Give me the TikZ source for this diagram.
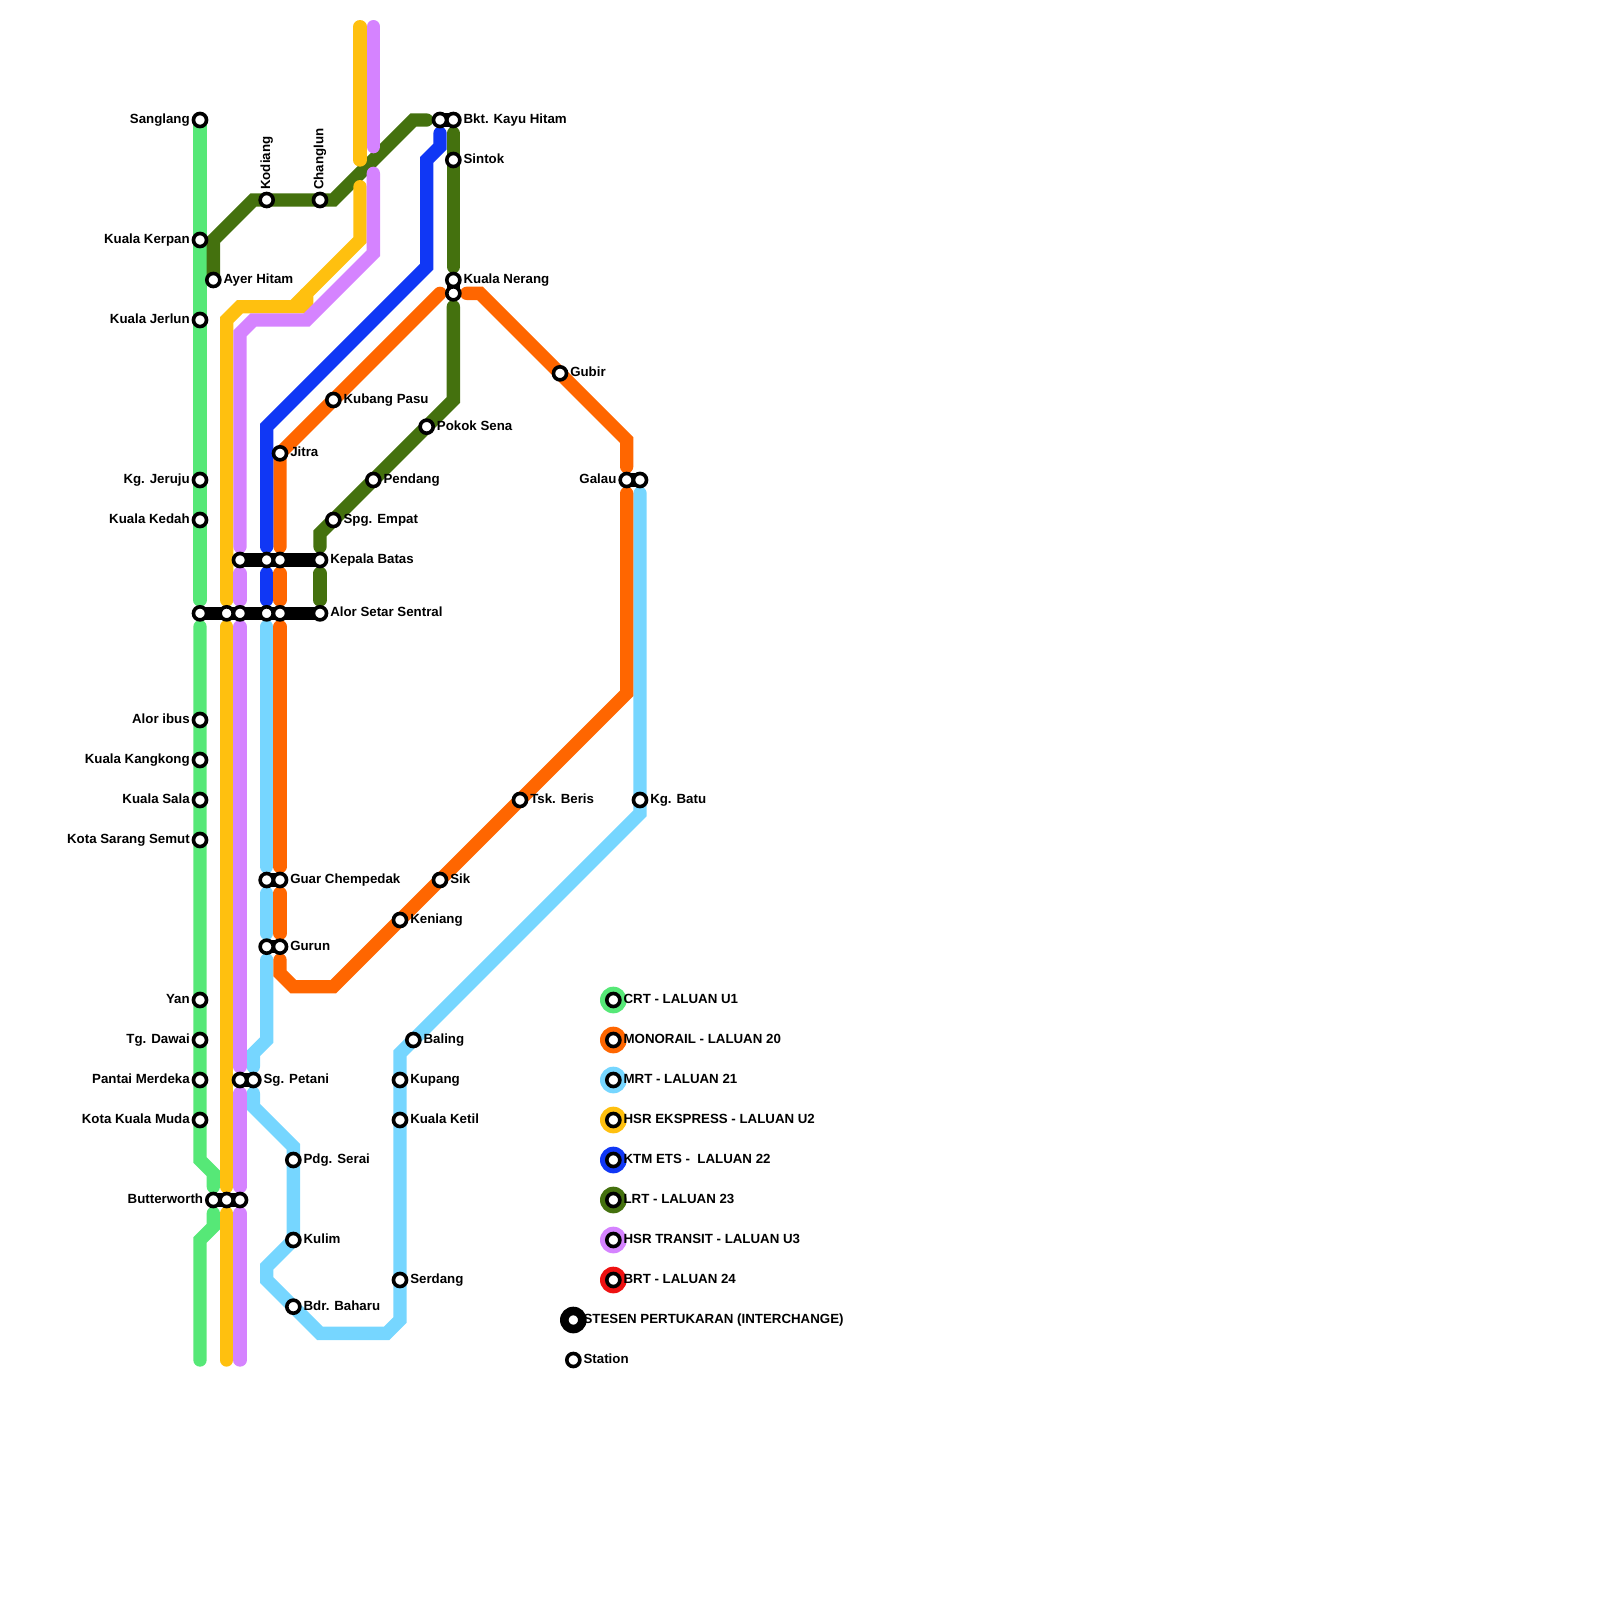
\documentclass[tikz,border=0pt]{standalone}
\usepackage{fontspec}
\setmainfont{Liberation Sans}
\pgfdeclarelayer{lines}
\pgfsetlayers{lines,main}
\definecolor{crt}{HTML}{56E877}
\definecolor{mono}{HTML}{FF6600}
\definecolor{mrt}{HTML}{76D6FF}
\definecolor{hsre}{HTML}{FFC00F}
\definecolor{ktm}{HTML}{1037F5}
\definecolor{lrt}{HTML}{44710E}
\definecolor{hsrt}{HTML}{D583FF}
\definecolor{brt}{HTML}{EE1111}
\tikzset{
  route/.style={line width=10pt,line cap=round,line join=miter,miter limit=4},
  crtline/.style={route,draw=crt},
  monoline/.style={route,draw=mono},
  mrtline/.style={route,draw=mrt},
  hsreline/.style={route,draw=hsre},
  ktmline/.style={route,draw=ktm},
  lrtline/.style={route,draw=lrt},
  hsrtline/.style={route,draw=hsrt},
  linkbar/.style={line width=10pt,line cap=round,draw=black},
  stn/.style={circle,draw=black,fill=white,line width=2.7pt,minimum size=9.8pt,inner sep=0pt,outer sep=0pt},
  lbl/.style={font=\bfseries\fontsize{9.97}{12}\selectfont,inner sep=0pt,text=black},
  lblr/.style={lbl,anchor=base west},
  lbll/.style={lbl,anchor=base east},
  lblu/.style={lbl,anchor=base west,rotate=90},
  dot/.style={circle,minimum size=20pt,inner sep=0pt,outer sep=0pt,draw=none}
}
\begin{document}
\begin{tikzpicture}[x=10pt,y=-10pt]
\useasboundingbox (0,0) rectangle (120,120);
% station nodes, labelled to the right
\foreach \n/\x/\y/\t in {
 ayer/16/21/Ayer Hitam, bkt/34/9/Bkt. Kayu Hitam, sintok/34/12/Sintok, nerang/34/21/Kuala Nerang,
 gubir/42/28/Gubir, kubang/25/30/Kubang Pasu, pokok/32/32/Pokok Sena, jitra/21/34/Jitra,
 pendang/28/36/Pendang, spg/25/39/Spg. Empat, kepala/24/42/Kepala Batas, alor/24/46/Alor Setar Sentral,
 kgbatu/48/60/Kg. Batu, tsk/39/60/Tsk. Beris, guar/21/66/Guar Chempedak, sik/33/66/Sik,
 keniang/30/69/Keniang, gurun/21/71/Gurun, baling/31/78/Baling, sgpetani/19/81/Sg. Petani,
 kupang/30/81/Kupang, ketil/30/84/Kuala Ketil, pdg/22/87/Pdg. Serai, kulim/22/93/Kulim,
 serdang/30/96/Serdang, bdr/22/98/Bdr. Baharu}
 {\node[stn] (\n) at (\x,\y) {}; \node[lblr] (t\n) at (\x+0.75,\y+0.25) {\t};}
% station nodes, labelled to the left
\foreach \n/\x/\y/\t in {
 sanglang/15/9/Sanglang, kerpan/15/18/Kuala Kerpan, jerlun/15/24/Kuala Jerlun, jeruju/15/36/Kg. Jeruju,
 kedah/15/39/Kuala Kedah, ibus/15/54/Alor ibus, kangkong/15/57/Kuala Kangkong, sala/15/60/Kuala Sala,
 sarang/15/63/Kota Sarang Semut, yan/15/75/Yan, dawai/15/78/Tg. Dawai, merdeka/15/81/Pantai Merdeka,
 muda/15/84/Kota Kuala Muda, butter/16/90/Butterworth, galau/47/36/Galau}
 {\node[stn] (\n) at (\x,\y) {}; \node[lbll] (t\n) at (\x-0.75,\y+0.25) {\t};}
% station nodes, labelled upwards
\foreach \n/\x/\y/\t in {kodiang/20/15/Kodiang, changlun/24/15/Changlun}
 {\node[stn] (\n) at (\x,\y) {}; \node[lblu] (t\n) at (\x+0.25,\y-0.75) {\t};}
% unlabelled stations of the interchanges
\foreach \n/\x/\y in {
 bktb/33/9, nerangb/34/22, ka/18/42, kb/20/42, kc/21/42,
 aa/15/46, ab/17/46, ac/18/46, ad/20/46, ae/21/46,
 guarb/20/66, gurunb/20/71, sgb/18/81, butb/17/90, butc/18/90, galaub/48/36}
 {\node[stn] (\n) at (\x,\y) {};}
% legend
\foreach \n/\y/\c/\t in {
 la/75/crt/CRT - LALUAN U1, lb/78/mono/MONORAIL - LALUAN 20, lc/81/mrt/MRT - LALUAN 21,
 ld/84/hsre/HSR EKSPRESS - LALUAN U2, le/87/ktm/KTM ETS -~ LALUAN 22, lf/90/lrt/LRT - LALUAN 23,
 lg/93/hsrt/HSR TRANSIT - LALUAN U3, lh/96/brt/BRT - LALUAN 24}
 {\begin{pgfonlayer}{lines}\node[dot,fill=\c] (d\n) at (46,\y) {};\end{pgfonlayer}
  \node[stn] (\n) at (46,\y) {}; \node[lblr] (t\n) at (46.75,\y+0.25) {\t};}
\begin{pgfonlayer}{lines}\node[dot,fill=black] (dinter) at (43,99) {};\end{pgfonlayer}
\node[stn] (inter) at (43,99) {}; \node[lblr] (tinter) at (43.75,99.25) {STESEN PERTUKARAN (INTERCHANGE)};
\node[stn] (plain) at (43,102) {}; \node[lblr] (tplain) at (43.75,102.25) {Station};
% route vertices
\foreach \n/\x/\y in {
 g1/15/45, g2/15/47, g3/15/87, g4/16/88, g5/16/89, g6/16/91, g7/16/92, g8/15/93, g9/15/102,
 y1/17/102, y2/17/91, y3/17/89, y4/17/47, y5/17/45, y6/17/24, y7/18/23, y8/23/23, y9/23/22, y10/27/18, y11/27/14, y12/27/12, y13/27/2, y14/22/23,
 p1/18/102, p2/18/91, p3/18/89, p4/18/82, p5/18/80, p6/18/47, p7/18/45, p8/18/43, p9/18/41, p10/18/25, p11/19/24, p12/23/24, p13/28/19, p14/28/13, p15/28/11, p16/28/2,
 b1/33/10, b2/33/11, b3/32/12, b4/32/20, b5/20/32, b6/20/41, b7/20/43, b8/20/45,
 m1/20/47, m2/20/65, m3/20/67, m4/20/70, m5/20/72, m6/20/78, m7/19/79, m8/19/80, m9/19/82, m10/19/83, m11/22/86, m12/20/95, m13/20/96, m14/24/100, m15/29/100, m16/30/99, m17/30/79, m18/48/61, m19/48/37,
 o1/33/22, o2/21/34, o3/21/41, o4/21/43, o5/21/45, o6/21/47, o7/21/65, o8/21/67, o9/21/70, o10/21/72, o11/21/73, o12/22/74, o13/25/74, o14/47/52, o15/47/37, o16/47/35, o17/47/33, o18/36/22, o19/35/22,
 l1/16/18, l2/19/15, l3/25/15, l4/31/9, l5/32/9, l6/34/10, l7/34/20, l8/34/23, l9/34/30, l10/24/40, l11/24/41, l12/24/43, l13/24/45}
 {\coordinate (\n) at (\x,\y);}
\begin{pgfonlayer}{lines}
% CRT
\draw[crtline] (sanglang.center) -- (g1);
\draw[crtline] (g2) -- (g3) -- (g4) -- (g5);
\draw[crtline] (g6) -- (g7) -- (g8) -- (g9);
% MRT
\draw[mrtline] (m1) -- (m2);
\draw[mrtline] (m3) -- (m4);
\draw[mrtline] (m5) -- (m6) -- (m7) -- (m8);
\draw[mrtline] (m9) -- (m10) -- (m11) -- (kulim.center) -- (m12) -- (m13) -- (m14) -- (m15) -- (m16) -- (m17) -- (m18) -- (m19);
% Monorail
\draw[monoline] (o1) -- (o2) -- (o3);
\draw[monoline] (o4) -- (o5);
\draw[monoline] (o6) -- (o7);
\draw[monoline] (o8) -- (o9);
\draw[monoline] (o10) -- (o11) -- (o12) -- (o13) -- (o14) -- (o15);
\draw[monoline] (o16) -- (o17) -- (o18) -- (o19);
% KTM
\draw[ktmline] (b1) -- (b2) -- (b3) -- (b4) -- (b5) -- (b6);
\draw[ktmline] (b7) -- (b8);
% LRT
\draw[lrtline] (ayer.center) -- (l1) -- (l2) -- (l3) -- (l4) -- (l5);
\draw[lrtline] (l6) -- (l7);
\draw[lrtline] (l8) -- (l9) -- (l10) -- (l11);
\draw[lrtline] (l12) -- (l13);
% HSR Ekspress
\draw[hsreline] (y1) -- (y2);
\draw[hsreline] (y3) -- (y4);
\draw[hsreline] (y5) -- (y6) -- (y7) -- (y8) -- (y9) -- (y10) -- (y11);
\draw[hsreline,line cap=butt] (y9) -- (y14);
\draw[hsreline] (y12) -- (y13);
% HSR Transit
\draw[hsrtline] (p1) -- (p2);
\draw[hsrtline] (p3) -- (p4);
\draw[hsrtline] (p5) -- (p6);
\draw[hsrtline] (p7) -- (p8);
\draw[hsrtline] (p9) -- (p10) -- (p11) -- (p12) -- (p13) -- (p14);
\draw[hsrtline] (p15) -- (p16);
% interchange bars
\draw[linkbar] (ka.center) -- (kepala.center);
\draw[linkbar] (aa.center) -- (alor.center);
\draw[linkbar] (bktb.center) -- (bkt.center);
\draw[linkbar] (nerang.center) -- (nerangb.center);
\draw[linkbar] (galau.center) -- (galaub.center);
\draw[linkbar] (guarb.center) -- (guar.center);
\draw[linkbar] (gurunb.center) -- (gurun.center);
\draw[linkbar] (sgb.center) -- (sgpetani.center);
\draw[linkbar] (butter.center) -- (butc.center);
\end{pgfonlayer}
\end{tikzpicture}
\end{document}
